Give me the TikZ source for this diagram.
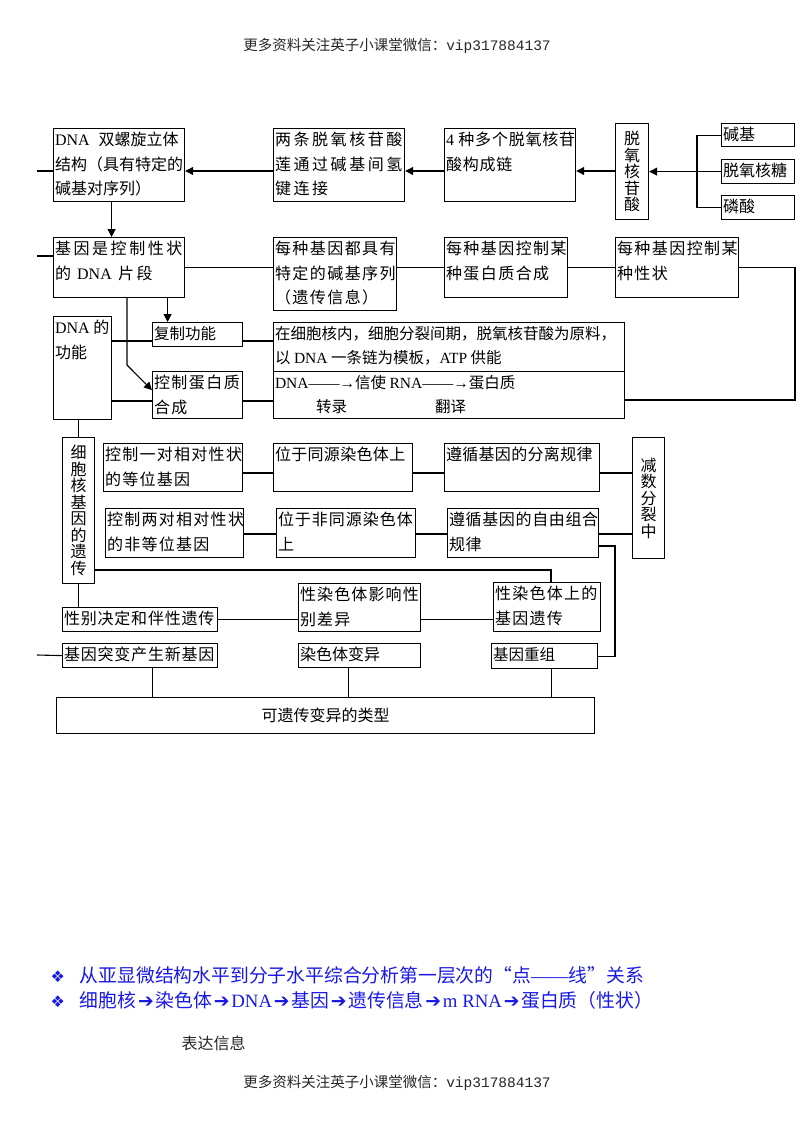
\documentclass[tikz,border=0pt]{standalone}
\usepackage{fontspec}
\setmainfont{Noto Sans CJK SC}
\newfontfamily\tnr{Liberation Serif}
\newfontfamily\mono{Liberation Mono}
\newfontfamily\sym{DejaVu Sans}
\usetikzlibrary{arrows.meta}
\definecolor{hint}{RGB}{25,25,230}
\newcommand{\harr}{\hspace{1.8pt}{\sym ➔}\hspace{1.8pt}}

\begin{document}
\begin{tikzpicture}[x=1pt,y=-1pt,line width=1.1pt]
\tikzset{box/.style={draw, line width=1.2pt, anchor=north west, inner sep=0pt},
  txt/.style={anchor=north west, align=left, inner xsep=1.5pt, inner ysep=3.5pt,
    font=\fontsize{16}{24.5}\selectfont},
  wide/.style={font={\fontsize{16}{24.5}\selectfont\addfontfeatures{LetterSpace=#1}}},
  small/.style={font=\fontsize{15.5}{24.5}\selectfont},
  vtxt/.style={align=center, font=\fontsize{16}{16.5}\selectfont},
  arr/.style={-{Triangle[length=8pt,width=8pt]}}}

\useasboundingbox (0,0) rectangle (800,1130);

\node[font=\fontsize{14.5}{14.5}\selectfont, text=black!85] (head) at (397,46)
  {更多资料关注英子小课堂微信：{\mono vip317884137}};

\node[box, minimum width=131, minimum height=73,
  label={[txt]north west:{{\tnr DNA}\hspace{9pt}双螺旋立体\\结构（具有特定的\\碱基对序列）}}] (dna) at (53,128) {};
\node[box, minimum width=131, minimum height=73,
  label={[txt,wide=16]north west:{两条脱氧核苷酸\\莲通过碱基间氢\\键连接}}] (pair) at (273,128) {};
\node[box, minimum width=131, minimum height=73,
  label={[txt,wide=5]north west:{{\tnr 4} 种多个脱氧核苷\\酸构成链}}] (chain) at (444,128) {};
\node[box, vtxt, minimum width=33, minimum height=96] (nuc) at (615,123) {脱\\氧\\核\\苷\\酸};
\node[box, minimum width=73, minimum height=23, label={[txt]north west:碱基}] (base) at (721,123) {};
\node[box, minimum width=73, minimum height=24, label={[txt]north west:脱氧核糖}] (sugar) at (721,159) {};
\node[box, minimum width=73, minimum height=24, label={[txt]north west:磷酸}] (phos) at (721,195) {};

\node[box, minimum width=131, minimum height=60,
  label={[txt,wide=16]north west:{基因是控制性状\\的 {\tnr DNA} 片段}}] (gene) at (53,237) {};
\node[box, minimum width=123, minimum height=73,
  label={[txt,wide=9]north west:{每种基因都具有\\特定的碱基序列\\（遗传信息）}}] (seq) at (273,237) {};
\node[box, minimum width=123, minimum height=60,
  label={[txt,wide=9]north west:{每种基因控制某\\种蛋白质合成}}] (prot) at (444,237) {};
\node[box, minimum width=123, minimum height=60,
  label={[txt,wide=9]north west:{每种基因控制某\\种性状}}] (trait) at (615,237) {};

\node[box, minimum width=58, minimum height=103,
  label={[txt]north west:{{\tnr DNA} 的\\功能}}] (func) at (53,316) {};
\node[box, minimum width=90, minimum height=24,
  label={[txt,small]north west:复制功能}] (rep) at (152,322) {};
\node[box, minimum width=90, minimum height=47,
  label={[txt,wide=9]north west:{控制蛋白质\\合成}}] (ctrl) at (152,371) {};
\node[box, minimum width=351, minimum height=49,
  label={[txt,small]north west:{在细胞核内，细胞分裂间期，脱氧核苷酸为原料，\\以 {\tnr DNA} 一条链为模板，{\tnr ATP} 供能}}] (repd) at (273,322) {};
\node[box, minimum width=351, minimum height=47,
  label={[txt,small]north west:{{\tnr DNA——→}信使 {\tnr RNA——→}蛋白质\\\hspace*{41pt}转录\hspace{88pt}翻译}}] (expr) at (273,371) {};

\node[box, vtxt, minimum width=32, minimum height=146] (nucl) at (62,437) {细\\胞\\核\\基\\因\\的\\遗\\传};
\node[box, minimum width=139, minimum height=48,
  label={[txt,wide=8]north west:{控制一对相对性状\\的等位基因}}] (one) at (103,443) {};
\node[box, minimum width=139, minimum height=48,
  label={[txt,wide=2]north west:位于同源染色体上}] (homo) at (273,443) {};
\node[box, minimum width=155, minimum height=48,
  label={[txt,wide=2]north west:遵循基因的分离规律}] (seg) at (444,443) {};
\node[box, vtxt, minimum width=32, minimum height=121] (mei) at (632,437) {减\\数\\分\\裂\\中};
\node[box, minimum width=138, minimum height=49,
  label={[txt,wide=8]north west:{控制两对相对性状\\的非等位基因}}] (two) at (105,508) {};
\node[box, minimum width=139, minimum height=49,
  label={[txt,wide=6]north west:{位于非同源染色体\\上}}] (nonh) at (276,508) {};
\node[box, minimum width=151, minimum height=49,
  label={[txt,wide=4]north west:{遵循基因的自由组合\\规律}}] (ind) at (447,508) {};

\node[box, minimum width=122, minimum height=48,
  label={[txt,wide=7]north west:{性染色体影响性\\别差异}}] (sexd) at (298,583) {};
\node[box, minimum width=107, minimum height=49,
  label={[txt,wide=8]north west:{性染色体上的\\基因遗传}}] (sexg) at (493,582) {};
\node[box, minimum width=155, minimum height=24,
  label={[txt,wide=5]north west:性别决定和伴性遗传}] (sex) at (62,607) {};
\node[box, minimum width=155, minimum height=24,
  label={[txt,wide=5]north west:基因突变产生新基因}] (mut) at (62,643) {};
\node[box, minimum width=122, minimum height=24,
  label={[txt]north west:染色体变异}] (chrom) at (298,643) {};
\node[box, minimum width=106, minimum height=25,
  label={[txt,small]north west:基因重组}] (reco) at (491,643) {};
\node[box, minimum width=538, minimum height=36, font=\fontsize{16}{16}\selectfont] (var) at (56,697) {可遗传变异的类型};

\coordinate (r1) at (0,171);
\coordinate (r3) at (0,341);
\coordinate (r4) at (0,401);
\coordinate (r5) at (0,473);
\coordinate (r6) at (0,534);
\coordinate (e1) at (37,171);
\coordinate (e2) at (37,256);
\coordinate (e3) at (795,400);
\coordinate (e4) at (615,546);
\coordinate (e5) at (551,570);
\coordinate (e6) at (37,655);
\coordinate (k1) at (127,365);

\draw[arr] (pair.west |- r1) -- (dna.east |- r1);
\draw[arr] (chain.west |- r1) -- (pair.east |- r1);
\draw[arr] (nuc.west |- r1) -- (chain.east |- r1);
\draw[arr] (sugar.west) -- (nuc.east);
\draw (base.west) -| ([xshift=-24pt]sugar.west) |- (phos.west);
\draw (e1) -- (dna.west |- e1);
\draw (e2) -- (gene.west |- e2);
\draw[arr] ([xshift=-7.5pt]dna.south) -- ([xshift=-7.5pt]gene.north);
\draw (gene.east) -- (seq.west |- gene.east);
\draw (seq.east |- prot.west) -- (prot.west);
\draw (prot.east) -- (trait.west);
\draw (trait.east) -| (e3) -- (expr.east |- e3);
\draw[arr] (gene.south -| k1) -- (k1) -- ([yshift=5pt]ctrl.west);
\draw[arr] ([xshift=48.5pt]gene.south) -- ([xshift=48.5pt]gene.south |- rep.north);
\draw (func.east |- r3) -- (rep.west |- r3);
\draw (rep.east |- r3) -- (repd.west |- r3);
\draw (func.east |- r4) -- (ctrl.west |- r4);
\draw (ctrl.east |- r4) -- (expr.west |- r4);
\draw (nucl.north) -- (nucl.north |- func.south);
\draw (one.east |- r5) -- (homo.west |- r5);
\draw (homo.east |- r5) -- (seg.west |- r5);
\draw (seg.east |- r5) -- (mei.west |- r5);
\draw (two.east |- r6) -- (nonh.west |- r6);
\draw (nonh.east |- r6) -- (ind.west |- r6);
\draw (ind.east |- r6) -- (mei.west |- r6);
\draw (ind.east |- e4) -- (e4) |- (reco.east);
\draw (nucl.east |- e5) -- (e5) -- (e5 |- sexg.north);
\draw (nucl.south) -- (nucl.south |- sex.north);
\draw (sex.east) -- (sexd.west |- sex.east);
\draw (sexd.east |- sex.east) -- (sexg.west |- sex.east);
\draw (e6) -- (mut.west);
\draw ([xshift=12.5pt]mut.south) -- ([xshift=12.5pt]mut.south |- var.north);
\draw ([xshift=-11pt]chrom.south) -- ([xshift=-11pt]chrom.south |- var.north);
\draw ([xshift=7pt]reco.south) -- ([xshift=7pt]reco.south |- var.north);

\node[anchor=west, inner sep=0pt, text=hint, font=\fontsize{18.8}{18.8}\selectfont] (pt1) at (50,975)
  {{\sym\fontsize{16}{16}\selectfont ❖}\hspace{15pt}从亚显微结构水平到分子水平综合分析第一层次的“点{\tnr ——}线”关系};
\node[anchor=west, inner sep=0pt, text=hint, font=\fontsize{18.8}{18.8}\selectfont] (pt2) at (50,1000)
  {{\sym\fontsize{16}{16}\selectfont ❖}\hspace{15pt}细胞核\harr 染色体\harr{\tnr DNA}\harr 基因\harr 遗传信息\harr{\tnr m RNA}\harr 蛋白质（性状）};
\node[anchor=west, inner sep=0pt, text=black!85, font=\fontsize{16}{16}\selectfont] (expl) at (181,1043) {表达信息};
\node[font=\fontsize{14.5}{14.5}\selectfont, text=black!85] (foot) at (397,1083)
  {更多资料关注英子小课堂微信：{\mono vip317884137}};
\end{tikzpicture}
\end{document}
